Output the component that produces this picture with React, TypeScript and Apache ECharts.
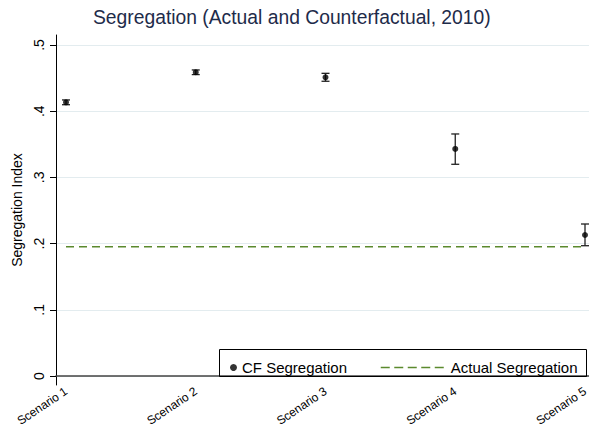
import React, { useEffect, useRef } from "react";
import * as echarts from "echarts";

const scenarios = ["Scenario 1", "Scenario 2", "Scenario 3", "Scenario 4", "Scenario 5"];
const scenarioX = [1, 2, 3, 4, 5];
const cfSegregation = [0.4134, 0.4588, 0.4512, 0.343, 0.213];
const ciLow = [0.4098, 0.4553, 0.4452, 0.3198, 0.1968];
const ciHigh = [0.417, 0.4623, 0.4572, 0.3656, 0.2296];
const actualSegregation = 0.1953;
const yTicks = [0, 0.1, 0.2, 0.3, 0.4, 0.5];
const yTickLabels = ["0", ".1", ".2", ".3", ".4", ".5"];

const FONT = "'Liberation Sans', Arial, Helvetica, sans-serif";
const GREEN = "#5b8a2e";

export default function App() {
  const ref = useRef<HTMLDivElement>(null);
  useEffect(() => {
    if (!ref.current) return;
    const chart = echarts.init(ref.current, undefined, { renderer: "svg" });
    const pointData = scenarioX.map((x, i) => [x, cfSegregation[i]]);
    const ciData = scenarioX.map((x, i) => [x, ciLow[i], ciHigh[i]]);
    const actualData = scenarioX.map((x) => [x, actualSegregation]);
    chart.setOption({
      animation: false,
      backgroundColor: "#ffffff",
      textStyle: { fontFamily: FONT },
      title: {
        text: "Segregation (Actual and Counterfactual, 2010)",
        left: 88,
        top: 3,
        textStyle: { fontFamily: FONT, fontSize: 19.3, fontWeight: "normal", color: "#1e2b4a" },
      },
      grid: { left: 56, right: 0, top: 35, bottom: 44, outerBoundsMode: "none", containLabel: false },
      xAxis: {
        type: "value",
        min: 0.9229,
        max: 5.0308,
        axisLine: { show: true, lineStyle: { color: "#444", width: 1.5 } },
        axisTick: { show: false },
        splitLine: { show: false },
        axisLabel: {
          customValues: scenarioX,
          formatter: (v: number) => scenarios[Math.round(v) - 1] || "",
          rotate: 34,
          margin: 5,
          fontSize: 12,
          color: "#000",
          fontFamily: FONT,
          hideOverlap: false,
        },
      },
      yAxis: {
        type: "value",
        min: -0.0136,
        max: 0.5151,
        name: "Segregation Index",
        nameLocation: "middle",
        nameGap: 24,
        nameRotate: 90,
        nameTextStyle: { fontSize: 14, color: "#000", fontFamily: FONT },
        axisLine: { show: true, lineStyle: { color: "#000", width: 1 } },
        axisTick: { show: true, length: 6, customValues: yTicks, lineStyle: { color: "#000" } },
        splitLine: { show: true, lineStyle: { color: "#e3ecef", width: 1 } },
        axisLabel: {
          customValues: yTicks,
          formatter: (v: number) => {
            const i = yTicks.findIndex((t) => Math.abs(t - v) < 1e-6);
            return i >= 0 ? yTickLabels[i] : "";
          },
          rotate: 90,
          margin: 10,
          fontSize: 14,
          color: "#000",
          fontFamily: FONT,
        },
      },
      legend: [
        {
          data: ["CF Segregation"],
          left: 225,
          top: 355,
          icon: "circle",
          itemWidth: 7,
          itemHeight: 7,
          itemGap: 6,
          textStyle: { fontSize: 15, color: "#000", fontFamily: FONT },
        },
        {
          data: ["Actual Segregation"],
          left: 375,
          top: 355,
          itemWidth: 65,
          itemHeight: 14,
          itemStyle: { color: "rgba(0,0,0,0)", borderWidth: 0, opacity: 0 },
          lineStyle: { color: GREEN, width: 1.5, type: [9, 4.5], opacity: 1 },
          textStyle: { fontSize: 15, color: "#000", fontFamily: FONT },
        },
      ],
      graphic: [
        {
          type: "rect",
          shape: { x: 219.5, y: 349.5, width: 367, height: 27 },
          style: { fill: "none", stroke: "#000", lineWidth: 1 },
          z: 100,
        },
      ],
      series: [
        {
          name: "Actual Segregation",
          type: "line",
          data: actualData,
          symbol: "none",
          color: GREEN,
          lineStyle: { color: GREEN, width: 1.5, type: [8, 5] },
          z: 2,
        },
        {
          name: "CI",
          type: "custom",
          data: ciData,
          encode: { x: 0, y: [1, 2] },
          renderItem: (params: any, api: any) => {
            const x = api.value(0);
            const lo = api.coord([x, api.value(1)]);
            const hi = api.coord([x, api.value(2)]);
            const hw = 4;
            const style = { stroke: "#222", lineWidth: 1.3 };
            return {
              type: "group",
              children: [
                { type: "line", shape: { x1: lo[0], y1: lo[1], x2: hi[0], y2: hi[1] }, style },
                { type: "line", shape: { x1: lo[0] - hw, y1: lo[1], x2: lo[0] + hw, y2: lo[1] }, style },
                { type: "line", shape: { x1: hi[0] - hw, y1: hi[1], x2: hi[0] + hw, y2: hi[1] }, style },
              ],
            };
          },
          z: 3,
        },
        {
          name: "CF Segregation",
          type: "scatter",
          data: pointData,
          symbol: "circle",
          symbolSize: 6,
          color: "#000",
          itemStyle: { color: "#000" },
          z: 4,
        },
      ],
    });
    return () => chart.dispose();
  }, []);
  return <div ref={ref} style={{ width: 589, height: 429, position: "absolute", left: 0, top: 0 }} />;
}
